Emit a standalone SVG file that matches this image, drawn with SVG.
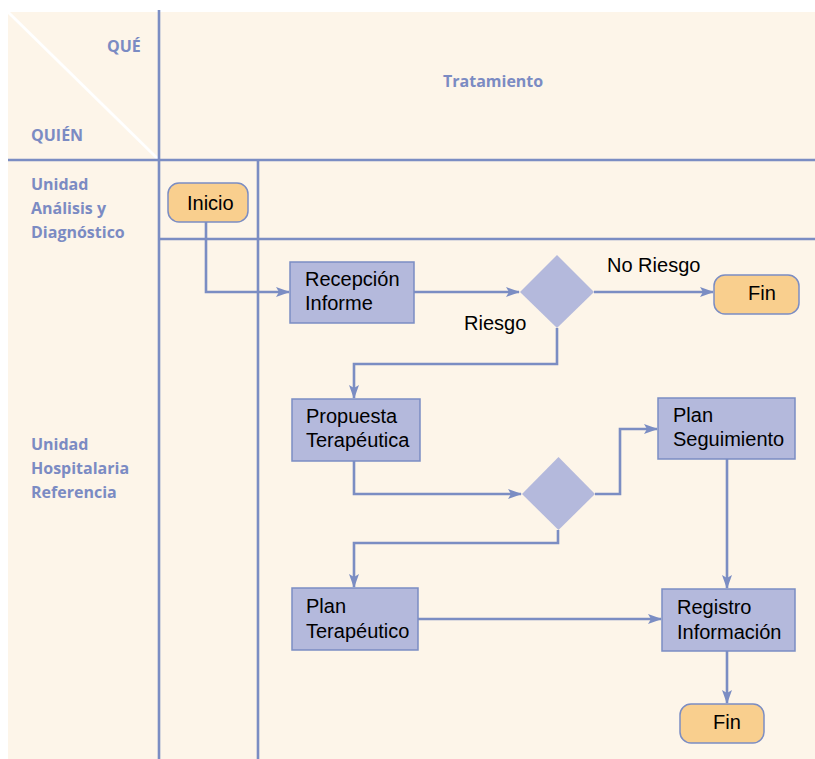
<svg xmlns="http://www.w3.org/2000/svg" width="815" height="759" viewBox="0 0 815 759">
  <style>
    .grid { stroke: #7B8DC3; stroke-width: 2.6; fill: none; }
    .conn { stroke: #7B8DC3; stroke-width: 2.6; fill: none; }
    .hdr { font-family: "Open Sans", "Liberation Sans", sans-serif; font-weight: bold; font-size: 16px; fill: #7B8BC3; }
    .box { fill: #B4B9DC; stroke: #7B8DC3; stroke-width: 1.5; }
    .term { fill: #F9CF8E; stroke: #7B8DC3; stroke-width: 1.5; }
    .dec { fill: #B4B9DC; }
    .lbl { font-family: "Liberation Sans", Arial, sans-serif; font-size: 20px; fill: #000; }
  </style>
  <defs>
    <marker id="arrow" viewBox="0 0 14 10" refX="13" refY="5" markerWidth="14" markerHeight="10" markerUnits="userSpaceOnUse" orient="auto">
      <path d="M0,0 L14,5 L0,10 L3,5 Z" fill="#7B8DC3"/>
    </marker>
  </defs>

  <!-- background -->
  <rect x="0" y="0" width="815" height="759" fill="#FFFFFF"/>
  <rect x="8" y="12" width="807" height="747" fill="#FDF5E9"/>

  <!-- swimlane grid -->
  <g id="grid">
    <line x1="8" y1="12" x2="159" y2="160" stroke="#FFFFFF" stroke-width="3"/>
    <line class="grid" x1="159" y1="10" x2="159" y2="759"/>
    <line class="grid" x1="8" y1="160" x2="815" y2="160"/>
    <line class="grid" x1="258" y1="160" x2="258" y2="759"/>
    <line class="grid" x1="159" y1="239" x2="815" y2="239"/>
  </g>

  <!-- headers -->
  <g id="headers">
    <text class="hdr" x="107" y="52">QUÉ</text>
    <text class="hdr" x="31" y="141">QUIÉN</text>
    <text class="hdr" x="443" y="87">Tratamiento</text>
    <text class="hdr" x="31" y="190">Unidad</text>
    <text class="hdr" x="31" y="214">Análisis y</text>
    <text class="hdr" x="31" y="238">Diagnóstico</text>
    <text class="hdr" x="31" y="450">Unidad</text>
    <text class="hdr" x="31" y="474">Hospitalaria</text>
    <text class="hdr" x="31" y="498">Referencia</text>
  </g>

  <!-- connectors -->
  <g id="connectors">
    <polyline class="conn" points="206,222 206,292 289,292" marker-end="url(#arrow)"/>
    <line class="conn" x1="414" y1="292" x2="519" y2="292" marker-end="url(#arrow)"/>
    <line class="conn" x1="594" y1="292" x2="713" y2="292" marker-end="url(#arrow)"/>
    <polyline class="conn" points="557,328 557,364 354,364 354,398" marker-end="url(#arrow)"/>
    <polyline class="conn" points="354,461 354,494 521,494" marker-end="url(#arrow)"/>
    <polyline class="conn" points="558,530 558,543 354,543 354,587" marker-end="url(#arrow)"/>
    <polyline class="conn" points="595,494 620,494 620,429 657,429" marker-end="url(#arrow)"/>
    <line class="conn" x1="727" y1="459" x2="727" y2="588" marker-end="url(#arrow)"/>
    <line class="conn" x1="416" y1="619" x2="661" y2="619" marker-end="url(#arrow)"/>
    <line class="conn" x1="727" y1="651" x2="727" y2="703" marker-end="url(#arrow)"/>
    <text class="lbl" x="464" y="330">Riesgo</text>
    <text class="lbl" x="607" y="272">No Riesgo</text>
  </g>

  <g id="inicio">
    <rect class="term" x="168" y="183" width="80" height="39" rx="11"/>
    <text class="lbl" x="187" y="210">Inicio</text>
  </g>

  <g id="recepcion">
    <rect class="box" x="290" y="262" width="124" height="61"/>
    <text class="lbl" x="305" y="286">Recepción</text>
    <text class="lbl" x="305" y="310">Informe</text>
  </g>

  <g id="decision-riesgo">
    <polygon class="dec" points="520,292 557,255 594,292 557,328"/>
  </g>

  <g id="fin-1">
    <rect class="term" x="714" y="275" width="85" height="39" rx="11"/>
    <text class="lbl" x="748" y="300">Fin</text>
  </g>

  <g id="propuesta">
    <rect class="box" x="292" y="399" width="128" height="62"/>
    <text class="lbl" x="306" y="423">Propuesta</text>
    <text class="lbl" x="306" y="447">Terapéutica</text>
  </g>

  <g id="decision-plan">
    <polygon class="dec" points="522,494 558.5,457 595,494 558.5,530"/>
  </g>

  <g id="plan-seguimiento">
    <rect class="box" x="658" y="398" width="137" height="61"/>
    <text class="lbl" x="673" y="422">Plan</text>
    <text class="lbl" x="673" y="446">Seguimiento</text>
  </g>

  <g id="plan-terapeutico">
    <rect class="box" x="292" y="588" width="126" height="62"/>
    <text class="lbl" x="306" y="613">Plan</text>
    <text class="lbl" x="306" y="638">Terapéutico</text>
  </g>

  <g id="registro">
    <rect class="box" x="662" y="589" width="133" height="62"/>
    <text class="lbl" x="677" y="614">Registro</text>
    <text class="lbl" x="677" y="639">Información</text>
  </g>

  <g id="fin-2">
    <rect class="term" x="680" y="704" width="84" height="39" rx="11"/>
    <text class="lbl" x="713" y="729">Fin</text>
  </g>
</svg>
